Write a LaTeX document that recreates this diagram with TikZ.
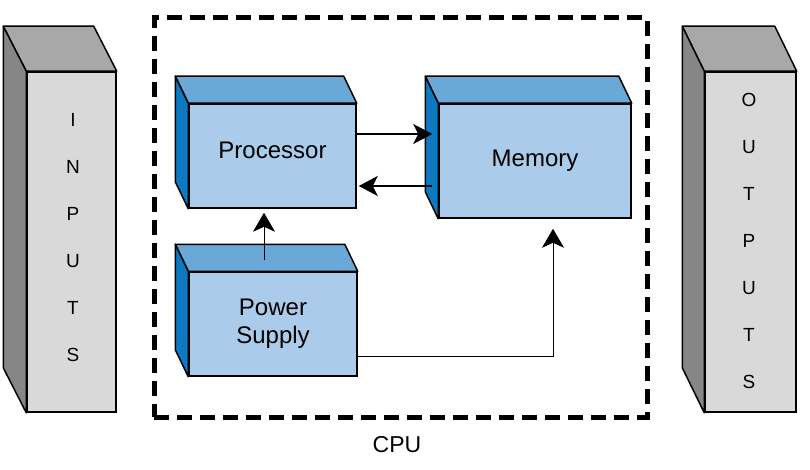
\documentclass[tikz,border=0pt]{standalone}
\usepackage{fontspec}
\setmainfont{Liberation Sans}
\usetikzlibrary{arrows.meta,calc}
\definecolor{bfront}{HTML}{AACBEA}
\definecolor{btop}{HTML}{6AA8D7}
\definecolor{bside}{HTML}{0E78C0}
\definecolor{gfront}{HTML}{D9D9D9}
\definecolor{gtop}{HTML}{A8A8A8}
\definecolor{gside}{HTML}{868686}
\newcommand\boxdepth[5]{%
  \filldraw[#4, draw=black, line width=1.5pt, line join=round]
    (#1.north west) -- ++(-#2,-#3) -- ($(#1.north east)+(-#2,-#3)$) -- (#1.north east) -- cycle;
  \filldraw[#5, draw=black, line width=1.5pt, line join=round]
    (#1.north west) -- ++(-#2,-#3) -- ($(#1.south west)+(-#2,-#3)$) -- (#1.south west) -- cycle;}
\begin{document}
\begin{tikzpicture}[x=1pt,y=-1pt,
  bluebox/.style={draw=black, line width=1.5pt, fill=bfront, inner sep=0pt, align=center,
    font=\fontsize{24}{28}\selectfont},
  graybox/.style={draw=black, line width=1.5pt, fill=gfront, inner sep=0pt},
  colletters/.style={align=center, inner sep=0pt, font=\fontsize{19}{47}\selectfont},
  thickarrow/.style={line width=2pt, -{Stealth[length=19pt,width=20pt,inset=5pt]}},
  thinarrow/.style={line width=1pt, -{Stealth[length=19pt,width=22pt,inset=5pt]}},
  cpudash/.style={draw=black, line width=5pt, dash pattern=on 15pt off 8pt}]
\useasboundingbox (0,0) rectangle (810,470);

% CPU dashed frame
\node[cpudash, minimum width=493pt, minimum height=399pt, inner sep=0pt] (cpu) at (400.5,217.5) {};
\node[font=\fontsize{23}{27}\selectfont, inner sep=0pt] (cpulabel) at (397,445) {CPU};

% INPUTS column
\node[graybox, minimum width=89pt, minimum height=340pt] (inputs) at (71.5,242) {};
\boxdepth{inputs}{23}{45}{gtop}{gside}
\node[colletters] (intext) at (73,237.5) {I\\N\\P\\U\\T\\S};

% OUTPUTS column
\node[graybox, minimum width=91pt, minimum height=340pt] (outputs) at (750.5,242) {};
\boxdepth{outputs}{22}{45}{gtop}{gside}
\node[colletters] (outtext) at (749,241) {O\\U\\T\\P\\U\\T\\S};

% Processor
\node[bluebox, minimum width=167pt, minimum height=104pt, text depth=12pt] (proc) at (272.5,156) {Processor};
\boxdepth{proc}{13}{27}{btop}{bside}

% Memory
\node[bluebox, minimum width=192pt, minimum height=114pt] (mem) at (535,161) {Memory};
\boxdepth{mem}{13}{27}{btop}{bside}

% Power supply
\node[bluebox, minimum width=168pt, minimum height=104pt] (power) at (273,324) {Power\\Supply};
\boxdepth{power}{13}{27}{btop}{bside}

% connectors
\coordinate (memside) at ([xshift=-6pt]mem.west);
\draw[thickarrow] ([yshift=22pt]proc.east) -- ([yshift=22pt]proc.east -| memside);
\draw[thickarrow] ([yshift=-30pt]proc.east -| memside) -- ([yshift=-30pt,xshift=2pt]proc.east);
\coordinate (pwrtop) at ([xshift=-9pt,yshift=11pt]power.north);
\draw[thinarrow, shorten >=4pt] (pwrtop) -- (pwrtop |- proc.south);
\coordinate (memin) at ([xshift=18pt,yshift=-10pt]mem.south);
\draw[thinarrow] ([yshift=-32pt]power.east) -| (memin);
\end{tikzpicture}
\end{document}
